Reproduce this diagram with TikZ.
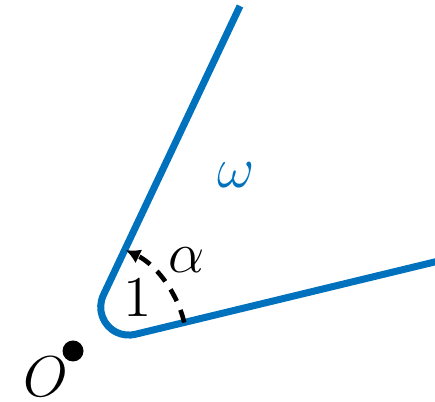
\documentclass[tikz,border=0pt]{standalone}
\usetikzlibrary{arrows.meta,calc}
\definecolor{mblue}{RGB}{0,114,189}
\begin{document}
\begin{tikzpicture}[x=0.25pt,y=0.25pt,
  wedge/.style={draw=mblue,line width=1.75pt},
  anglearc/.style={draw=black,line width=1.15pt,dash pattern=on 3.3pt off 2.4pt,-{Latex[length=3.6pt,width=3.8pt]}},
  lbl/.style={inner sep=0pt,font=\Large}]
\clip (0,0) rectangle (435,402);
\coordinate (V) at (78.3,53.8);
\coordinate (T) at (240,396);
\coordinate (P1) at ($(V)+(64.7:58.7)$);
\coordinate (R) at ($(V)+(13.6:420)$);
\draw[wedge] (T) -- (P1) arc[start angle=154.7,end angle=283.6,radius=28] -- (R);
\draw[anglearc] ($(V)+(13.6:109)$) arc[start angle=13.6,end angle=64.2,radius=109];
\node[lbl] (alpha) at (187,142) {$\alpha$};
\node[lbl] (one) at (138,104) {$1$};
\node[lbl,text=mblue] (omega) at (236,227) {$\omega$};
\node[lbl] (O) at (46,25) {$O$};
\fill (73,51) circle[radius=10.5] coordinate (dot);
\end{tikzpicture}
\end{document}
